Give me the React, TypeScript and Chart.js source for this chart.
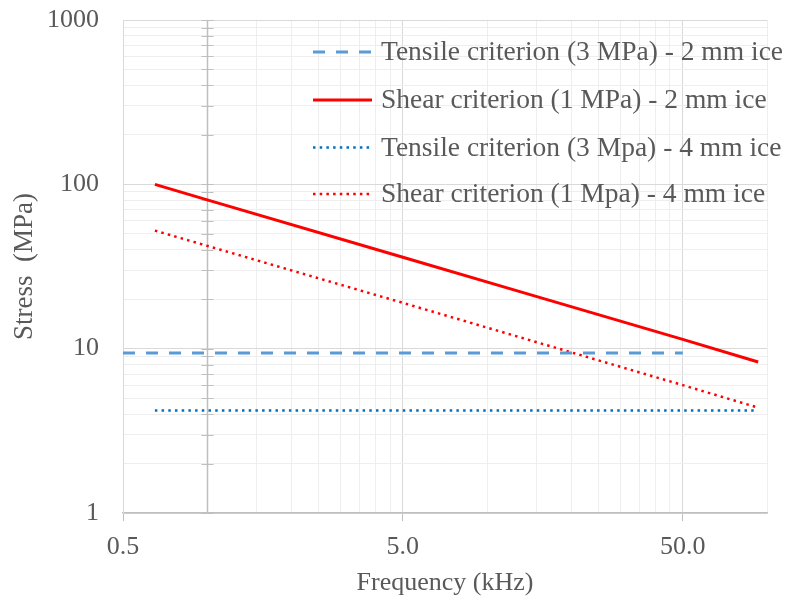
import React, { useEffect, useRef } from "react";
import { Chart, registerables } from "chart.js";

Chart.register(...registerables);

// ---- data ----
const SERIES_LABELS = [
  "Tensile criterion (3 MPa) - 2 mm ice",
  "Shear criterion (1 MPa) - 2 mm ice",
  "Tensile criterion (3 Mpa) - 4 mm ice",
  "Shear criterion (1 Mpa) - 4 mm ice",
];
const TENSILE_2MM_F = [0.5, 50];
const TENSILE_2MM_S = [9.4, 9.4];
const SHEAR_2MM_F = [0.65, 1, 5, 13, 50, 93];
const SHEAR_2MM_S = [100, 80.5, 36, 22.3, 11.4, 8.3];
const TENSILE_4MM_F = [0.65, 92];
const TENSILE_4MM_S = [4.2, 4.2];
const SHEAR_4MM_F = [0.65, 5, 50, 92];
const SHEAR_4MM_S = [52.3, 19, 6.0, 4.4];

const X_MIN = 0.5;
const X_MAX = 100;
const X_LABELS = [0.5, 5, 50];
const X_GRID = [0.5, 1, 1.5, 2, 2.5, 3, 3.5, 4, 4.5, 5, 10, 15, 20, 25, 30, 35, 40, 45, 50, 100];
const Y_MIN = 1;
const Y_MAX = 1000;
const Y_LABELS = [1, 10, 100, 1000];
const Y_GRID = [1, 2, 3, 4, 5, 6, 7, 8, 9, 10, 20, 30, 40, 50, 60, 70, 80, 90, 100, 200, 300, 400, 500, 600, 700, 800, 900, 1000];
const Y_AXIS_CROSS_X = 1;

const FONT = "'Liberation Serif', 'Times New Roman', serif";
const TEXT = "#595959";

const pts = (xs: number[], ys: number[]) => xs.map((x, i) => ({ x, y: ys[i] }));
const isLabel = (arr: number[], v: number) => arr.some((a) => Math.abs(a - v) < 1e-9);

const crossAxisPlugin = {
  id: "crossAxis",
  beforeDatasetsDraw(chart: any) {
    const { ctx, chartArea, scales } = chart;
    const x = Math.round(scales.x.getPixelForValue(Y_AXIS_CROSS_X)) + 0.5;
    ctx.save();
    ctx.strokeStyle = "#bfbfbf";
    ctx.lineWidth = 1.5;
    ctx.beginPath();
    ctx.moveTo(x, chartArea.top);
    ctx.lineTo(x, chartArea.bottom);
    ctx.stroke();
    ctx.lineWidth = 1;
    Y_GRID.forEach((v) => {
      const y = Math.round(scales.y.getPixelForValue(v)) + 0.5;
      ctx.beginPath();
      ctx.moveTo(x - 6, y);
      ctx.lineTo(x + 6, y);
      ctx.stroke();
    });
    ctx.restore();
  },
};

const legendPlugin = {
  id: "insideLegend",
  afterDraw(chart: any) {
    const { ctx } = chart;
    const rows = [52, 100, 147.5, 194];
    ctx.save();
    chart.data.datasets.forEach((ds: any, i: number) => {
      const y = rows[i];
      ctx.beginPath();
      ctx.strokeStyle = ds.borderColor;
      ctx.lineWidth = ds.borderWidth;
      ctx.setLineDash(ds.borderDash || []);
      ctx.moveTo(313, y);
      ctx.lineTo(372, y);
      ctx.stroke();
      ctx.setLineDash([]);
      ctx.fillStyle = TEXT;
      ctx.font = `27.5px ${FONT}`;
      ctx.textBaseline = "middle";
      ctx.textAlign = "left";
      ctx.fillText(ds.label, 381, y + 1);
    });
    ctx.restore();
  },
};

export default function App() {
  const ref = useRef<HTMLCanvasElement | null>(null);

  useEffect(() => {
    document.body.style.margin = "0";
    if (!ref.current) return;
    const chart = new Chart(ref.current, {
      type: "line",
      data: {
        datasets: [
          {
            label: SERIES_LABELS[0],
            data: pts(TENSILE_2MM_F, TENSILE_2MM_S),
            borderColor: "#5b9bd5",
            borderWidth: 3,
            borderDash: [12, 11],
            pointRadius: 0,
          },
          {
            label: SERIES_LABELS[1],
            data: pts(SHEAR_2MM_F, SHEAR_2MM_S),
            borderColor: "#ff0000",
            borderWidth: 3,
            pointRadius: 0,
          },
          {
            label: SERIES_LABELS[2],
            data: pts(TENSILE_4MM_F, TENSILE_4MM_S),
            borderColor: "#0070c0",
            borderWidth: 2.5,
            borderDash: [2.5, 4.2],
            pointRadius: 0,
          },
          {
            label: SERIES_LABELS[3],
            data: pts(SHEAR_4MM_F, SHEAR_4MM_S),
            borderColor: "#ff0000",
            borderWidth: 2.5,
            borderDash: [2.5, 4.2],
            pointRadius: 0,
          },
        ] as any,
      },
      options: {
        animation: false,
        responsive: false,
        maintainAspectRatio: false,
        layout: { padding: { top: 20, right: 22, left: 0, bottom: 0 } },
        plugins: {
          legend: { display: false },
          tooltip: { enabled: false },
        },
        scales: {
          x: {
            type: "logarithmic",
            min: X_MIN,
            max: X_MAX,
            afterBuildTicks: (s: any) => {
              s.ticks = X_GRID.map((v) => ({ value: v }));
            },
            afterFit: (s: any) => {
              s.height = 86;
              s.paddingLeft = 0;
              s.paddingRight = 0;
            },
            ticks: {
              autoSkip: false,
              maxRotation: 0,
              padding: 11,
              color: TEXT,
              font: { family: FONT, size: 26 },
              callback: (v: any) => (isLabel(X_LABELS, Number(v)) ? Number(v).toFixed(1) : ""),
            },
            grid: {
              color: (c: any) => (c.tick && isLabel(X_LABELS, c.tick.value) ? "#d9d9d9" : "#eeeeee"),
              tickColor: (c: any) => (c.tick && isLabel(X_LABELS, c.tick.value) ? "#bfbfbf" : "rgba(0,0,0,0)"),
              tickLength: 8,
              drawTicks: true,
            },
            border: { color: "#bfbfbf", width: 1.5 },
            title: {
              display: true,
              text: "Frequency (kHz)",
              color: TEXT,
              font: { family: FONT, size: 26 },
              padding: { top: 0, bottom: 0 },
            },
          },
          y: {
            type: "logarithmic",
            min: Y_MIN,
            max: Y_MAX,
            afterBuildTicks: (s: any) => {
              s.ticks = Y_GRID.map((v) => ({ value: v }));
            },
            afterFit: (s: any) => {
              s.width = 123;
              s.paddingTop = 0;
              s.paddingBottom = 0;
            },
            ticks: {
              autoSkip: false,
              padding: 24,
              color: TEXT,
              font: { family: FONT, size: 26 },
              callback: (v: any) => (isLabel(Y_LABELS, Number(v)) ? String(Number(v)) : ""),
            },
            grid: {
              color: (c: any) => (c.tick && isLabel(Y_LABELS, c.tick.value) ? "#d9d9d9" : "#eeeeee"),
              drawTicks: false,
            },
            border: { color: "#d9d9d9" },
            title: {
              display: true,
              text: "Stress  (MPa)",
              color: TEXT,
              font: { family: FONT, size: 27 },
              padding: { top: 9, bottom: 0 },
            },
          },
        },
      } as any,
      plugins: [crossAxisPlugin, legendPlugin],
    });
    return () => chart.destroy();
  }, []);

  return (
    <div style={{ width: 789, height: 599 }}>
      <canvas ref={ref} width={789} height={599} style={{ display: "block" }} />
    </div>
  );
}
